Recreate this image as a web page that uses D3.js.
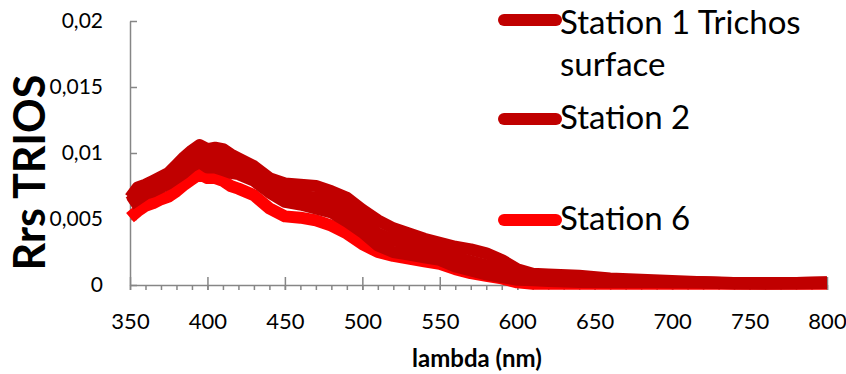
<!DOCTYPE html>
<html>
<head>
<meta charset="utf-8">
<script src="https://cdn.jsdelivr.net/npm/d3@7/dist/d3.min.js"></script>
<style>
  html, body { margin: 0; padding: 0; background: #fff; }
  svg { display: block; font-family: Lato, "Open Sans", sans-serif; }
</style>
</head>
<body>
<svg id="chart" width="846" height="374"></svg>
<script>
// Wavelengths (nm) at which reflectance was sampled
const wavelengths = [350,355,360,365,370,375,380,385,390,395,400,405,410,415,420,430,440,450,460,470,480,490,500,510,520,530,540,550,560,570,580,590,600,610,620,640,660,680,700,720,740,760,780,800];

// Remote-sensing reflectance per station
const station1 = [0.0066,0.0074,0.0076,0.0079,0.0082,0.0085,0.0091,0.0097,0.0102,0.0106,0.0103,0.0104,0.0103,0.0099,0.0096,0.0090,0.0081,0.0077,0.0076,0.0075,0.0071,0.0066,0.0057,0.0049,0.0043,0.0039,0.0035,0.0032,0.0029,0.0027,0.0024,0.0019,0.0012,0.00085,0.0008,0.0007,0.0005,0.0004,0.0003,0.0002,0.00012,0.0001,0.00012,0.00015];
const station2 = [0.0061,0.0065,0.0069,0.0071,0.0074,0.0077,0.0081,0.0085,0.0090,0.0093,0.0089,0.0089,0.0087,0.0085,0.0084,0.0079,0.0070,0.0063,0.0061,0.0058,0.0055,0.0048,0.0040,0.0030,0.0025,0.0023,0.0021,0.0019,0.0014,0.0011,0.0008,0.0006,0.0004,0.00035,0.0003,0.00022,0.0002,0.0002,0.0002,0.00018,0.00015,0.00015,0.00015,0.0002];
const stationX = [0.0063,0.0069,0.0072,0.0075,0.0078,0.0081,0.0086,0.0091,0.0096,0.0099,0.0096,0.0097,0.0095,0.0092,0.0090,0.0085,0.0076,0.0070,0.0068,0.0066,0.0063,0.0057,0.0048,0.0039,0.0034,0.0031,0.0028,0.0025,0.0021,0.0018,0.0015,0.0011,0.0007,0.0006,0.0005,0.0004,0.0003,0.00025,0.0002,0.0002,0.00015,0.00015,0.00015,0.00018];
const station6 = [0.0051,0.0056,0.0060,0.0062,0.0065,0.0067,0.0071,0.0076,0.0080,0.0084,0.0081,0.0081,0.0079,0.0075,0.0073,0.0068,0.0058,0.0052,0.0051,0.0049,0.0045,0.0039,0.0031,0.0025,0.0022,0.0020,0.0018,0.0016,0.0012,0.0009,0.0007,0.0005,0.0002,0.0001,0.0001,0.0001,0.0001,0.0001,0.0001,0.0001,0.0001,0.0001,0.0001,0.0001];

// Series names in legend order (the unnamed series leaves an empty legend slot)
const seriesNames = ["Station 1 Trichos surface", "Station 2", "", "Station 6"];
const seriesValues = [station1, station2, stationX, station6];
const seriesColors = ["#C00000", "#C00000", "#C00000", "#FF0000"];

// Axis ticks
const xTicks = [350,400,450,500,550,600,650,700,750,800];
const xMinorTicks = d3.range(350, 801, 10);
const yTicks = [0, 0.005, 0.01, 0.015, 0.02];

const svg = d3.select("#chart");
const x = d3.scaleLinear().domain([350, 800]).range([130, 827]);
const y = d3.scaleLinear().domain([0, 0.02]).range([285, 21]);

const locale = d3.formatLocale({decimal: ",", thousands: ".", grouping: [3], currency: ["", ""]});
const fmtY = v => v === 0 ? "0" : locale.format("~g")(v);

const axisColor = "#868686";

// Y axis (ticks point inward)
const gy = svg.append("g").attr("transform", "translate(130,0)")
  .call(d3.axisLeft(y).tickValues(yTicks).tickFormat(fmtY).tickSizeInner(-7).tickSizeOuter(0).tickPadding(27));
gy.select(".domain").attr("stroke", axisColor).attr("stroke-width", 1.5);
gy.selectAll(".tick line").attr("stroke", axisColor).attr("stroke-width", 1.5);
gy.selectAll(".tick text").attr("font-size", 21).attr("fill", "#000")
  .attr("font-family", "Lato, 'Open Sans', sans-serif").attr("dy", "0.3em");

// X axis: minor ticks below, major ticks crossing the axis
const gxMinor = svg.append("g").attr("transform", "translate(0,285)")
  .call(d3.axisBottom(x).tickValues(xMinorTicks).tickFormat("").tickSizeInner(5).tickSizeOuter(0));
gxMinor.select(".domain").remove();
gxMinor.selectAll(".tick line").attr("stroke", axisColor).attr("stroke-width", 1.5);

const gx = svg.append("g").attr("transform", "translate(0,285)")
  .call(d3.axisBottom(x).tickValues(xTicks).tickFormat(d3.format("d")).tickSizeInner(5).tickSizeOuter(0).tickPadding(23));
gx.select(".domain").attr("stroke", axisColor).attr("stroke-width", 1.5);
gx.selectAll(".tick line").attr("stroke", axisColor).attr("stroke-width", 1.5).attr("y1", -8);
gx.selectAll(".tick text").attr("font-size", 22).attr("fill", "#000")
  .attr("font-family", "Lato, 'Open Sans', sans-serif");

// Series lines (drawn from last to first so the dark series sit on top)
const line = d3.line().x((d, i) => x(wavelengths[i])).y(d => y(d)).curve(d3.curveLinear);
const order = [3, 2, 1, 0];
svg.append("g").selectAll("path").data(order).join("path")
  .attr("d", i => line(seriesValues[i]))
  .attr("fill", "none")
  .attr("stroke", i => seriesColors[i])
  .attr("stroke-width", 12)
  .attr("stroke-linejoin", "round")
  .attr("stroke-linecap", "butt");

// Legend: one slot per series, wrapped names take extra lines
const legendLines = {"Station 1 Trichos surface": ["Station 1 Trichos", "surface"]};
const legendBaselines = [34, 129, 180, 230];
const legend = svg.append("g");
seriesNames.forEach((name, i) => {
  if (!name) return;
  const lines = legendLines[name] || [name];
  const baseline = legendBaselines[i];
  const markerY = i === 0 ? 20 : baseline - 10;
  legend.append("line")
    .attr("x1", 504).attr("x2", 556)
    .attr("y1", markerY).attr("y2", markerY)
    .attr("stroke", seriesColors[i]).attr("stroke-width", 12).attr("stroke-linecap", "round");
  const t = legend.append("text").attr("x", 560).attr("y", baseline)
    .attr("font-size", 33).attr("fill", "#000");
  lines.forEach((l, k) => {
    t.append("tspan").attr("x", 560).attr("y", baseline + k * 42).text(l);
  });
});

// Axis titles
svg.append("text")
  .attr("transform", "translate(45,172.5) rotate(-90)")
  .attr("text-anchor", "middle")
  .attr("font-size", 43).attr("font-weight", "bold").attr("fill", "#000")
  .text("Rrs TRIOS");

svg.append("text")
  .attr("x", 477).attr("y", 367)
  .attr("text-anchor", "middle")
  .attr("font-size", 24).attr("font-weight", "bold").attr("fill", "#000")
  .text("lambda (nm)");
</script>
</body>
</html>
